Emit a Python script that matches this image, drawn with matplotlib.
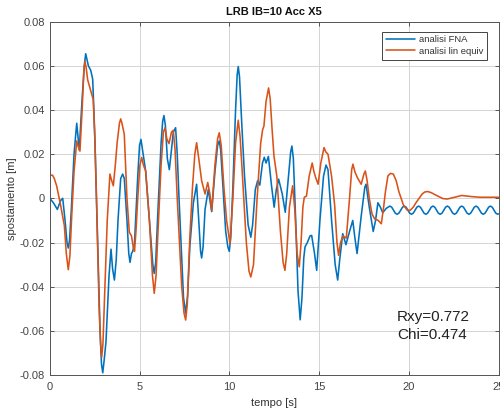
import matplotlib
matplotlib.use("Agg")
import matplotlib.pyplot as plt
from matplotlib.ticker import FuncFormatter

plt.rcParams['font.family'] = ['Liberation Sans', 'DejaVu Sans']

# analisi FNA: (time [s], displacement [m]) samples
fna_samples = [
    (0.00, 0.000), (0.20, -0.002), (0.42, -0.005), (0.60, -0.001), (0.72, 0.000), (0.85, -0.010),
    (0.96, -0.020), (1.03, -0.0225), (1.10, -0.019), (1.20, -0.005), (1.35, 0.020), (1.50, 0.034),
    (1.64, 0.022), (1.80, 0.045), (1.92, 0.060), (2.00, 0.0655), (2.07, 0.063), (2.15, 0.060),
    (2.28, 0.058), (2.39, 0.054), (2.50, 0.030), (2.60, 0.000), (2.80, -0.060), (2.88, -0.075),
    (2.95, -0.079), (3.02, -0.074), (3.13, -0.065), (3.30, -0.035), (3.41, -0.023), (3.50, -0.032),
    (3.60, -0.037), (3.70, -0.028), (3.80, -0.010), (3.95, 0.009), (4.06, 0.011), (4.15, 0.009),
    (4.30, -0.010), (4.40, -0.025), (4.47, -0.029), (4.55, -0.025), (4.62, -0.024), (4.72, -0.020),
    (4.90, 0.010), (5.00, 0.024), (5.08, 0.0267), (5.20, 0.020), (5.34, 0.0124), (5.60, -0.015),
    (5.74, -0.030), (5.82, -0.034), (5.90, -0.029), (6.00, -0.010), (6.20, 0.025), (6.29, 0.035),
    (6.36, 0.0375), (6.44, 0.033), (6.55, 0.018), (6.66, 0.013), (6.78, 0.022), (6.88, 0.030),
    (7.01, 0.032), (7.10, 0.020), (7.20, 0.000), (7.45, -0.045), (7.57, -0.052), (7.68, -0.044),
    (7.80, -0.022), (8.00, -0.002), (8.18, 0.0064), (8.30, -0.010), (8.40, -0.024), (8.46, -0.027),
    (8.54, -0.022), (8.65, -0.005), (8.83, 0.004), (9.02, -0.006), (9.20, 0.012), (9.35, 0.024),
    (9.44, 0.026), (9.52, 0.022), (9.65, 0.005), (9.80, -0.015), (9.92, -0.022), (10.00, -0.024),
    (10.08, -0.018), (10.20, 0.005), (10.35, 0.040), (10.44, 0.056), (10.50, 0.0597), (10.57, 0.055),
    (10.70, 0.033), (10.85, 0.010), (11.05, -0.012), (11.20, -0.0176), (11.30, -0.012), (11.45, 0.004),
    (11.58, 0.008), (11.70, 0.006), (11.85, 0.016), (11.95, 0.0186), (12.05, 0.016), (12.18, 0.019),
    (12.35, 0.006), (12.50, -0.004), (12.62, 0.004), (12.75, 0.0087), (12.95, 0.002), (13.12, -0.0063),
    (13.30, 0.010), (13.42, 0.021), (13.49, 0.0237), (13.57, 0.018), (13.70, -0.010), (13.83, -0.042),
    (13.95, -0.055), (14.05, -0.045), (14.15, -0.027), (14.22, -0.022), (14.35, -0.020), (14.50, -0.017),
    (14.59, -0.0168), (14.75, -0.025), (14.87, -0.0326), (15.05, -0.010), (15.25, 0.010), (15.39, 0.0151),
    (15.50, 0.013), (15.70, -0.010), (15.90, -0.030), (16.04, -0.037), (16.15, -0.028), (16.32, -0.016),
    (16.50, -0.021), (16.70, -0.015), (16.88, -0.010), (17.00, -0.018), (17.12, -0.025), (17.35, -0.008),
    (17.55, 0.005), (17.62, 0.0064), (17.80, -0.004), (18.02, -0.015), (18.15, -0.010), (18.28, -0.002),
    (18.42, -0.004), (18.55, -0.0065), (18.75, -0.0045),
    # residual free oscillation
    (18.95, -0.0035), (19.05, -0.0040), (19.15, -0.0054), (19.25, -0.0067), (19.35, -0.0072),
    (19.45, -0.0067), (19.55, -0.0054), (19.65, -0.0040), (19.75, -0.0035), (19.85, -0.0040),
    (19.95, -0.0054), (20.05, -0.0067), (20.15, -0.0072), (20.25, -0.0067), (20.35, -0.0054),
    (20.45, -0.0040), (20.55, -0.0035), (20.65, -0.0040), (20.75, -0.0054), (20.85, -0.0067),
    (20.95, -0.0072), (21.05, -0.0067), (21.15, -0.0054), (21.25, -0.0040), (21.35, -0.0035),
    (21.45, -0.0040), (21.55, -0.0054), (21.65, -0.0067), (21.75, -0.0072), (21.85, -0.0067),
    (21.95, -0.0054), (22.05, -0.0040), (22.15, -0.0035), (22.25, -0.0040), (22.35, -0.0054),
    (22.45, -0.0067), (22.55, -0.0072), (22.65, -0.0067), (22.75, -0.0054), (22.85, -0.0040),
    (22.95, -0.0035), (23.05, -0.0040), (23.15, -0.0054), (23.25, -0.0067), (23.35, -0.0072),
    (23.45, -0.0067), (23.55, -0.0054), (23.65, -0.0040), (23.75, -0.0035), (23.85, -0.0040),
    (23.95, -0.0054), (24.05, -0.0067), (24.15, -0.0072), (24.25, -0.0067), (24.35, -0.0054),
    (24.45, -0.0040), (24.55, -0.0035), (24.65, -0.0040), (24.75, -0.0054), (24.85, -0.0067),
    (24.95, -0.0072), (25.00, -0.0070),
]

# analisi lineare equivalente: (time [s], displacement [m]) samples
lin_samples = [
    (0.00, 0.0105), (0.15, 0.0105), (0.25, 0.009), (0.38, 0.0057), (0.60, -0.003), (0.81, -0.0123),
    (0.92, -0.025), (1.03, -0.0323), (1.12, -0.026), (1.22, -0.008), (1.35, 0.012), (1.50, 0.026),
    (1.60, 0.023), (1.68, 0.0214), (1.80, 0.040), (1.90, 0.058), (1.96, 0.062), (2.03, 0.059),
    (2.11, 0.0537), (2.24, 0.050), (2.42, 0.0447), (2.52, 0.025), (2.60, 0.000), (2.75, -0.050),
    (2.83, -0.066), (2.89, -0.072), (2.96, -0.066), (3.05, -0.045), (3.20, -0.010), (3.35, 0.011),
    (3.45, 0.008), (3.54, 0.0057), (3.65, 0.015), (3.75, 0.025), (3.88, 0.034), (3.95, 0.036),
    (4.02, 0.034), (4.15, 0.029), (4.30, 0.000), (4.43, -0.0153), (4.55, -0.017), (4.65, -0.022),
    (4.72, -0.024), (4.80, -0.015), (4.90, 0.000), (5.02, 0.015), (5.12, 0.0185), (5.22, 0.015),
    (5.34, 0.0124), (5.55, -0.010), (5.72, -0.035), (5.82, -0.043), (5.92, -0.035), (6.00, -0.020),
    (6.20, 0.015), (6.33, 0.030), (6.42, 0.032), (6.52, 0.027), (6.64, 0.0248), (6.78, 0.030),
    (6.88, 0.0308), (6.98, 0.022), (7.10, 0.000), (7.35, -0.040), (7.48, -0.052), (7.57, -0.0551),
    (7.66, -0.048), (7.80, -0.018), (7.95, 0.005), (8.08, 0.020), (8.18, 0.0252), (8.30, 0.018),
    (8.46, 0.008), (8.65, 0.002), (8.80, 0.0072), (8.92, 0.002), (9.02, -0.0056), (9.20, 0.015),
    (9.35, 0.027), (9.44, 0.0297), (9.55, 0.024), (9.70, 0.005), (9.85, -0.010), (10.04, -0.0206),
    (10.20, 0.000), (10.35, 0.025), (10.50, 0.0354), (10.60, 0.028), (10.70, 0.015), (10.95, -0.020),
    (11.10, -0.033), (11.20, -0.0356), (11.35, -0.030), (11.55, 0.000), (11.75, 0.025), (11.86, 0.0312),
    (11.93, 0.0327), (12.05, 0.044), (12.19, 0.050), (12.28, 0.045), (12.38, 0.032), (12.49, 0.0192),
    (12.65, 0.010), (12.85, -0.015), (13.00, -0.029), (13.10, -0.0326), (13.20, -0.025), (13.35, -0.004),
    (13.53, 0.0057), (13.65, -0.005), (13.78, -0.025), (13.90, -0.031), (14.00, -0.020), (14.10, -0.004),
    (14.18, 0.0005), (14.30, 0.001), (14.45, 0.010), (14.62, 0.016), (14.72, 0.012), (14.81, 0.0095),
    (14.95, 0.0064), (15.10, 0.016), (15.28, 0.023), (15.38, 0.021), (15.50, 0.020), (15.70, 0.010),
    (15.87, -0.003), (16.00, -0.020), (16.09, -0.0258), (16.20, -0.020), (16.33, -0.017), (16.52, -0.018),
    (16.70, 0.000), (16.82, 0.013), (16.89, 0.0155), (17.00, 0.012), (17.13, 0.0095), (17.35, 0.0064),
    (17.50, 0.011), (17.58, 0.0124), (17.68, 0.008), (17.80, 0.000), (17.95, -0.007), (18.10, -0.0093),
    (18.30, -0.010), (18.47, -0.0115), (18.60, -0.004), (18.70, 0.003), (18.84, 0.0102), (18.98, 0.0113),
    (19.14, 0.011), (19.30, 0.008), (19.45, 0.003), (19.70, -0.003), (19.90, -0.0052), (20.07, -0.0055),
    (20.25, -0.004), (20.40, -0.002), (20.75, 0.002), (20.90, 0.0029), (21.05, 0.0031), (21.25, 0.0026),
    (21.50, 0.0015), (21.90, -0.0001), (22.15, -0.0003), (22.55, 0.0005), (22.95, 0.0013), (23.50, 0.0008),
    (24.00, 0.0005), (25.00, 0.0005),
]

series_labels = ["analisi FNA", "analisi lin equiv"]
x_ticks = [0, 5, 10, 15, 20, 25]
y_ticks = [-0.08, -0.06, -0.04, -0.02, 0, 0.02, 0.04, 0.06, 0.08]
title = "LRB IB=10 Acc X5"
stats_text = "Rxy=0.772\nChi=0.474"

blue = "#0072BD"
orange = "#D95319"

t_fna = [p[0] for p in fna_samples]
x_fna = [p[1] for p in fna_samples]
t_lin = [p[0] for p in lin_samples]
x_lin = [p[1] for p in lin_samples]

fig = plt.figure(figsize=(5.0, 4.12), dpi=100)
ax = fig.add_axes([0.0996, 0.0898, 0.8974, 0.8575])

ax.plot(t_fna, x_fna, color=blue, lw=1.15, label=series_labels[0],
        solid_joinstyle='round', solid_capstyle='round')
ax.plot(t_lin, x_lin, color=orange, lw=1.15, label=series_labels[1],
        solid_joinstyle='round', solid_capstyle='round')

ax.set_xlim(0, 25)
ax.set_ylim(-0.08, 0.08)
ax.set_xticks(x_ticks)
ax.set_yticks(y_ticks)
ax.yaxis.set_major_formatter(FuncFormatter(lambda v, p: "0" if abs(v) < 1e-9 else "%g" % round(v, 2)))
ax.grid(True, color="#d4d4d4", lw=0.7)
ax.set_axisbelow(True)
ax.tick_params(direction="in", length=3, width=0.6, colors="#404040", labelsize=8,
               top=True, right=True, labelcolor="#444444")
ax.tick_params(axis="x", pad=5)
for s in ax.spines.values():
    s.set_color("#555555")
    s.set_linewidth(0.7)

ax.set_title(title, fontsize=8, fontweight="bold", color="#111111", pad=5)
ax.set_xlabel("tempo [s]", fontsize=8, color="#333333", labelpad=4)
ax.set_ylabel("spostamento [m]", fontsize=8, color="#333333", labelpad=2)

ax.text(19.35, -0.0578, stats_text, fontsize=11, color="#222222", va="center", ha="left",
        multialignment="left", linespacing=1.3)

leg = ax.legend(loc="upper right", bbox_to_anchor=(0.975, 0.972), borderaxespad=0,
                fontsize=6.8, handlelength=3.1, handletextpad=0.4, borderpad=0.4,
                labelspacing=0.25, frameon=True, fancybox=False, framealpha=1)
leg.get_frame().set_edgecolor("#444444")
leg.get_frame().set_linewidth(0.7)
for txt in leg.get_texts():
    txt.set_color("#333333")

fig.savefig("out.png", dpi=100)
